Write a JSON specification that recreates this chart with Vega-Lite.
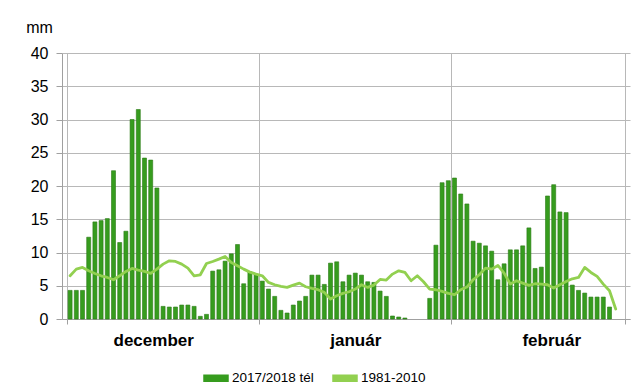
{
  "$schema": "https://vega.github.io/schema/vega-lite/v6.json",
  "width": 568,
  "height": 266,
  "autosize": {"type": "none"},
  "padding": {"left": 62, "top": 53, "right": 10, "bottom": 71},
  "background": "white",
  "config": {"view": {"stroke": null}, "font": "Liberation Sans"},
  "data": {"values": [
    {"day": 1, "rain": 4.3, "normal": 6.5},
    {"day": 2, "rain": 4.3, "normal": 7.5},
    {"day": 3, "rain": 4.3, "normal": 7.75},
    {"day": 4, "rain": 12.3, "normal": 7.25},
    {"day": 5, "rain": 14.6, "normal": 6.85},
    {"day": 6, "rain": 14.8, "normal": 6.5},
    {"day": 7, "rain": 15.1, "normal": 6.25},
    {"day": 8, "rain": 22.3, "normal": 5.9},
    {"day": 9, "rain": 11.5, "normal": 6.5},
    {"day": 10, "rain": 13.2, "normal": 7.15},
    {"day": 11, "rain": 30.0, "normal": 7.6},
    {"day": 12, "rain": 31.5, "normal": 7.35},
    {"day": 13, "rain": 24.2, "normal": 7.15},
    {"day": 14, "rain": 23.9, "normal": 6.85},
    {"day": 15, "rain": 19.7, "normal": 7.5},
    {"day": 16, "rain": 1.9, "normal": 8.25},
    {"day": 17, "rain": 1.8, "normal": 8.75},
    {"day": 18, "rain": 1.8, "normal": 8.65},
    {"day": 19, "rain": 2.1, "normal": 8.25},
    {"day": 20, "rain": 2.1, "normal": 7.65},
    {"day": 21, "rain": 1.9, "normal": 6.5},
    {"day": 22, "rain": 0.4, "normal": 6.65},
    {"day": 23, "rain": 0.7, "normal": 8.35},
    {"day": 24, "rain": 7.2, "normal": 8.65},
    {"day": 25, "rain": 7.4, "normal": 9.0},
    {"day": 26, "rain": 8.7, "normal": 9.4},
    {"day": 27, "rain": 9.8, "normal": 8.5},
    {"day": 28, "rain": 11.2, "normal": 8.0},
    {"day": 29, "rain": 5.3, "normal": 7.5},
    {"day": 30, "rain": 7.1, "normal": 7.05},
    {"day": 31, "rain": 6.7, "normal": 6.75},
    {"day": 32, "rain": 5.7, "normal": 6.5},
    {"day": 33, "rain": 4.5, "normal": 5.5},
    {"day": 34, "rain": 3.4, "normal": 5.15},
    {"day": 35, "rain": 1.3, "normal": 4.9},
    {"day": 36, "rain": 0.9, "normal": 4.75},
    {"day": 37, "rain": 2.1, "normal": 5.1},
    {"day": 38, "rain": 2.7, "normal": 5.4},
    {"day": 39, "rain": 3.4, "normal": 4.85},
    {"day": 40, "rain": 6.6, "normal": 4.6},
    {"day": 41, "rain": 6.6, "normal": 4.4},
    {"day": 42, "rain": 5.2, "normal": 4.0},
    {"day": 43, "rain": 8.4, "normal": 3.0},
    {"day": 44, "rain": 8.6, "normal": 3.5},
    {"day": 45, "rain": 5.6, "normal": 3.85},
    {"day": 46, "rain": 6.6, "normal": 4.1},
    {"day": 47, "rain": 6.9, "normal": 4.5},
    {"day": 48, "rain": 6.6, "normal": 5.15},
    {"day": 49, "rain": 5.6, "normal": 4.75},
    {"day": 50, "rain": 5.5, "normal": 5.1},
    {"day": 51, "rain": 4.2, "normal": 5.95},
    {"day": 52, "rain": 3.4, "normal": 5.85},
    {"day": 53, "rain": 0.45, "normal": 6.75},
    {"day": 54, "rain": 0.3, "normal": 7.25},
    {"day": 55, "rain": 0.15, "normal": 7.0},
    {"day": 56, "rain": null, "normal": 5.75},
    {"day": 57, "rain": null, "normal": 6.5},
    {"day": 58, "rain": null, "normal": 5.6},
    {"day": 59, "rain": 3.1, "normal": 4.5},
    {"day": 60, "rain": 11.1, "normal": 4.4},
    {"day": 61, "rain": 20.5, "normal": 4.15},
    {"day": 62, "rain": 20.8, "normal": 3.85},
    {"day": 63, "rain": 21.2, "normal": 3.65},
    {"day": 64, "rain": 18.8, "normal": 4.4},
    {"day": 65, "rain": 17.3, "normal": 4.8},
    {"day": 66, "rain": 11.7, "normal": 5.9},
    {"day": 67, "rain": 11.4, "normal": 6.65},
    {"day": 68, "rain": 11.0, "normal": 7.65},
    {"day": 69, "rain": 10.2, "normal": 7.5},
    {"day": 70, "rain": 5.9, "normal": 8.05},
    {"day": 71, "rain": 8.3, "normal": 6.9},
    {"day": 72, "rain": 10.4, "normal": 5.25},
    {"day": 73, "rain": 10.4, "normal": 5.75},
    {"day": 74, "rain": 11.0, "normal": 5.4},
    {"day": 75, "rain": 13.7, "normal": 5.05},
    {"day": 76, "rain": 7.6, "normal": 5.3},
    {"day": 77, "rain": 7.8, "normal": 5.25},
    {"day": 78, "rain": 18.5, "normal": 5.15},
    {"day": 79, "rain": 20.2, "normal": 4.65},
    {"day": 80, "rain": 16.1, "normal": 5.15},
    {"day": 81, "rain": 16.0, "normal": 5.65},
    {"day": 82, "rain": 5.1, "normal": 6.05},
    {"day": 83, "rain": 4.3, "normal": 6.25},
    {"day": 84, "rain": 3.9, "normal": 7.75},
    {"day": 85, "rain": 3.3, "normal": 7.0},
    {"day": 86, "rain": 3.3, "normal": 6.4},
    {"day": 87, "rain": 3.3, "normal": 5.25},
    {"day": 88, "rain": 1.8, "normal": 4.25},
    {"day": 89, "rain": null, "normal": 1.5},
    {"day": 90, "rain": null, "normal": null}
  ]},
  "encoding": {
    "x": {
      "field": "day",
      "type": "quantitative",
      "scale": {"domain": [0.5, 90.5], "nice": false, "zero": false},
      "axis": {
        "values": [0.5, 14.4, 31.5, 47, 62.5, 78.6, 90.5],
        "title": null,
        "grid": true,
        "gridColor": "#b8b8b8",
        "gridOpacity": {"condition": {"test": "datum.value % 1 == 0.5", "value": 1}, "value": 0},
        "ticks": true,
        "tickSize": 5,
        "tickColor": "#a0a0a0",
        "tickOpacity": {"condition": {"test": "datum.value % 1 == 0.5", "value": 1}, "value": 0},
        "labelExpr": "(datum.value > 10 && datum.value < 20) ? 'december' : (datum.value > 40 && datum.value < 50) ? 'január' : (datum.value > 70 && datum.value < 80) ? 'február' : ''",
        "labelFontSize": 17,
        "labelFontWeight": "bold",
        "labelColor": "black",
        "labelPadding": 8,
        "labelAngle": 0,
        "labelOverlap": false,
        "labelFlush": false,
        "labelBound": false,
        "domainColor": "#a0a0a0"
      }
    }
  },
  "layer": [
    {
      "mark": {"type": "bar", "size": 4, "stroke": "#2a7a14", "strokeWidth": 0.6},
      "encoding": {
        "y": {
          "field": "rain",
          "type": "quantitative",
          "scale": {"domain": [0, 40], "nice": false},
          "axis": {
            "values": [0, 5, 10, 15, 20, 25, 30, 35, 40],
            "title": "mm",
            "titleAngle": 0,
            "titleX": -23,
            "titleY": -21,
            "titleAlign": "center",
            "titleBaseline": "alphabetic",
            "titleFontSize": 16,
            "titleFontWeight": "normal",
            "titleColor": "black",
            "labelFontSize": 16,
            "labelColor": "black",
            "labelPadding": 8,
            "labelFlush": false,
            "labelOverlap": false,
            "tickSize": 6,
            "tickColor": "#a0a0a0",
            "domainColor": "#a0a0a0",
            "gridColor": "#b8b8b8"
          }
        },
        "color": {
          "datum": "2017/2018 tél",
          "type": "nominal",
          "scale": {"domain": ["2017/2018 tél", "1981-2010"], "range": ["#369c1e", "#92d050"]},
          "legend": {
            "orient": "none",
            "legendX": 141,
            "legendY": 312,
            "direction": "horizontal",
            "title": null,
            "labelFontSize": 13.5,
            "labelColor": "black",
            "symbolSize": 576,
            "labelOffset": 3,
            "columnPadding": 16,
            "symbolType": "M-1,-0.25H1V0.25H-1Z",
            "encode": {
              "symbols": {
                "update": {
                  "shape": {"signal": "datum.label === '1981-2010' ? 'stroke' : 'M-1,-0.25H1V0.25H-1Z'"},
                  "fill": {"signal": "datum.label === '1981-2010' ? 'transparent' : '#369c1e'"},
                  "stroke": {"signal": "datum.label === '1981-2010' ? '#92d050' : '#2a7a14'"},
                  "strokeWidth": {"signal": "datum.label === '1981-2010' ? 3 : 0.6"},
                  "opacity": {"value": 1}
                }
              }
            }
          }
        }
      }
    },
    {
      "mark": {"type": "line", "strokeWidth": 2.8, "strokeCap": "round", "strokeJoin": "round"},
      "encoding": {
        "y": {
          "field": "normal",
          "type": "quantitative",
          "scale": {"domain": [0, 40], "nice": false},
          "axis": {
            "values": [0, 5, 10, 15, 20, 25, 30, 35, 40],
            "title": "mm",
            "titleAngle": 0,
            "titleX": -23,
            "titleY": -21,
            "titleAlign": "center",
            "titleBaseline": "alphabetic",
            "titleFontSize": 16,
            "titleFontWeight": "normal",
            "titleColor": "black",
            "labelFontSize": 16,
            "labelColor": "black",
            "labelPadding": 8,
            "labelFlush": false,
            "labelOverlap": false,
            "tickSize": 6,
            "tickColor": "#a0a0a0",
            "domainColor": "#a0a0a0",
            "gridColor": "#b8b8b8"
          }
        },
        "color": {"datum": "1981-2010", "type": "nominal"}
      }
    }
  ]
}
